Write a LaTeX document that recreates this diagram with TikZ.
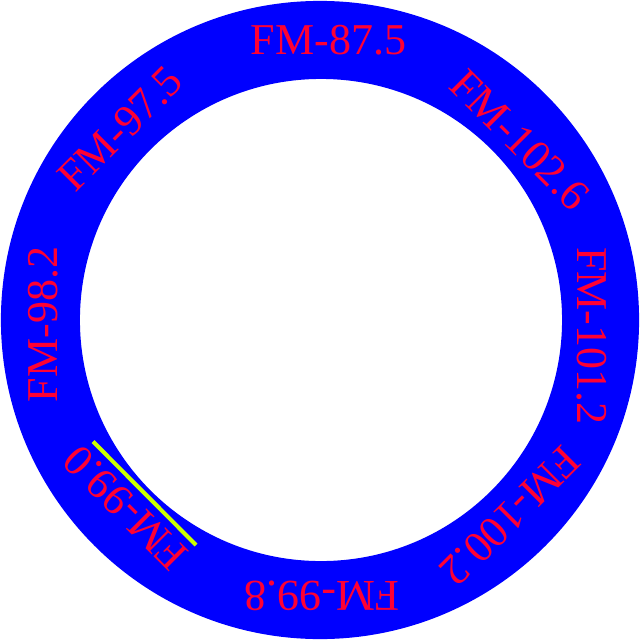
\documentclass[tikz,border=0pt]{standalone}
\usepackage{fontspec}
\setmainfont{Liberation Serif}
\definecolor{ringblue}{RGB}{0,0,255}
\definecolor{labelred}{RGB}{255,0,51}
\definecolor{markgreen}{RGB}{204,255,0}
\begin{document}
\begin{tikzpicture}[x=0.025cm,y=-0.025cm,
  lbl/.style={text=labelred,inner sep=0pt,font=\fontsize{31.3}{31.3}\selectfont},
  mark/.style={}]
\useasboundingbox (0,0) rectangle (640,640);
\fill[ringblue,even odd rule] (320,320) circle[radius=7.975cm] (321,320) circle[radius=6.025cm];
\node[lbl] (f875) at (328.5,40) {FM-87.5};
\node[lbl,rotate=-45] (f1026) at (520,140) {FM-102.6};
\node[lbl,rotate=-90] (f1012) at (592,336) {FM-101.2};
\node[lbl,rotate=-135] (f1002) at (510,516) {FM-100.2};
\node[lbl,rotate=180] (f998) at (322,595.5) {FM-99.8};
\node[lbl,rotate=135] (f990) at (125.5,508) {FM-99.0};
\node[lbl,rotate=90] (f982) at (43,324.5) {FM-98.2};
\node[lbl,rotate=45] (f975) at (120.5,128.5) {FM-97.5};
\coordinate (la) at (93,441.5);
\coordinate (lb) at (196,545);
\draw[markgreen,line width=0.1cm] (la) -- (lb);
\end{tikzpicture}
\end{document}
